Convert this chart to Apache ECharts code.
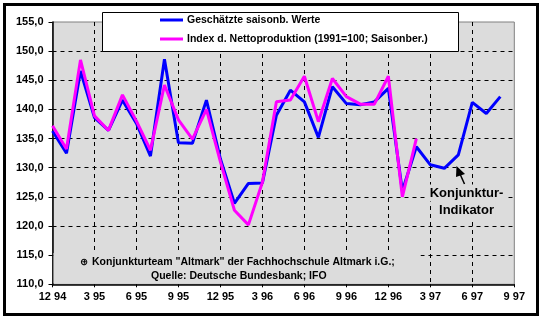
<!DOCTYPE html>
<html>
<head>
<meta charset="utf-8">
<script src="https://cdn.jsdelivr.net/npm/echarts@6/dist/echarts.min.js"></script>
<style>html,body{margin:0;padding:0;background:#fff}#c{width:541px;height:319px}</style>
</head>
<body>
<div id="c"></div>
<script>
const tickLabels = ["12 94","3 95","6 95","9 95","12 95","3 96","6 96","9 96","12 96","3 97","6 97","9 97"];
const seriesNames = ["Geschätzte saisonb. Werte", "Index d. Nettoproduktion (1991=100; Saisonber.)"];
const blueValues = [136.3,132.5,146.6,138.6,136.4,141.6,137.6,132.0,148.6,134.3,134.2,141.6,131.5,123.9,127.3,127.4,139.0,143.3,141.3,135.2,143.9,141.0,140.8,141.3,143.6,126.0,133.6,130.5,129.9,132.2,141.2,139.3,142.2];
const pinkValues = [137.2,133.2,148.5,138.9,136.4,142.5,138.0,133.0,144.2,138.2,134.9,140.0,131.0,122.7,120.2,127.5,141.3,141.6,145.7,137.9,145.3,142.2,140.9,140.9,145.7,125.0,135.0];
const footLines = ["Konjunkturteam \"Altmark\" der Fachhochschule Altmark i.G.;", "Quelle: Deutsche Bundesbank; IFO"];
const noteText = ["Konjunktur-", "Indikator"];

const toPairs = arr => arr.map((v, i) => [i, v]);
const plotBg = '#dcdcdc';
const font = 'bold 10.5px "Liberation Sans", Arial, sans-serif';

const chart = echarts.init(document.getElementById('c'), null, {renderer: 'canvas'});
chart.setOption({
  animation: false,
  backgroundColor: '#fff',
  grid: {left: 52.5, right: 26.7, top: 22, bottom: 34.7, show: true, backgroundColor: plotBg, borderColor: '#808080', borderWidth: 1},
  xAxis: {
    type: 'value', min: 0, max: 33, interval: 3,
    axisLine: {show: true, onZero: false, lineStyle: {color: '#000', width: 1.5}},
    axisTick: {show: true, length: 3, lineStyle: {color: '#000'}},
    axisLabel: {margin: 7, color: '#000', fontFamily: '"Liberation Sans", Arial, sans-serif', fontWeight: 'bold', fontSize: 11,
      formatter: v => tickLabels[Math.round(v / 3)]},
    splitLine: {show: true, showMinLine: false, showMaxLine: false, lineStyle: {color: '#000', type: [4, 4], width: 1}}
  },
  yAxis: {
    type: 'value', min: 110, max: 155, interval: 5,
    axisLine: {show: true, onZero: false, lineStyle: {color: '#000', width: 1.5}},
    axisTick: {show: true, length: 4, lineStyle: {color: '#000'}},
    axisLabel: {margin: 9, color: '#000', fontFamily: '"Liberation Sans", Arial, sans-serif', fontWeight: 'bold', fontSize: 11,
      formatter: v => v.toFixed(1).replace('.', ',')},
    splitLine: {show: true, showMinLine: false, showMaxLine: false, lineStyle: {color: '#000', type: [4, 4], width: 1}}
  },
  legend: {
    orient: 'vertical', left: 160, top: 13, padding: 0, itemGap: 5,
    itemWidth: 23, itemHeight: 3, icon: 'rect',
    textStyle: {color: '#000', fontFamily: '"Liberation Sans", Arial, sans-serif', fontWeight: 'bold', fontSize: 10.5, lineHeight: 14, padding: [0, 0, 0, -1]},
    data: seriesNames, z: 10
  },
  series: [
    {name: seriesNames[0], type: 'line', data: toPairs(blueValues), showSymbol: false, symbol: 'none', color: '#0000ff', lineStyle: {color: '#0000ff', width: 3}, z: 2},
    {name: seriesNames[1], type: 'line', data: toPairs(pinkValues), showSymbol: false, symbol: 'none', color: '#ff00ff', lineStyle: {color: '#ff00ff', width: 3}, z: 3}
  ],
  graphic: [
    {type: 'rect', shape: {x: 4.5, y: 4.5, width: 533, height: 310}, style: {fill: 'none', stroke: '#000', lineWidth: 3}, z: 20},
    {type: 'rect', shape: {x: 102.5, y: 12.5, width: 356, height: 39}, style: {fill: '#fff', stroke: '#000', lineWidth: 1}, z: 5},
    {type: 'rect', shape: {x: 53.5, y: 253, width: 367, height: 30.5}, style: {fill: plotBg}, z: 1},
    {type: 'text', x: 80, y: 262, style: {text: '⊕', font: 'bold 10px "DejaVu Sans", sans-serif', fill: '#000', verticalAlign: 'middle'}, z: 6},
    {type: 'text', x: 92, y: 262, style: {text: footLines[0], font: font, fill: '#000', verticalAlign: 'middle'}, z: 6},
    {type: 'text', x: 151, y: 276, style: {text: footLines[1], font: font, fill: '#000', verticalAlign: 'middle'}, z: 6},
    {type: 'text', x: 466.5, y: 193, style: {text: noteText[0], font: 'bold 13px "Liberation Sans", Arial, sans-serif', fill: '#000', align: 'center', verticalAlign: 'middle', backgroundColor: plotBg, padding: [2, 2, 2, 2]}, z: 6},
    {type: 'text', x: 466.5, y: 210.5, style: {text: noteText[1], font: 'bold 13px "Liberation Sans", Arial, sans-serif', fill: '#000', align: 'center', verticalAlign: 'middle', backgroundColor: plotBg, padding: [2, 2, 4, 2]}, z: 6},
    {type: 'line', shape: {x1: 460, y1: 174, x2: 464.5, y2: 184}, style: {stroke: '#000', lineWidth: 1.5}, z: 6},
    {type: 'polygon', shape: {points: [[456.5, 166], [456, 177], [465, 174]]}, style: {fill: '#000'}, z: 6}
  ]
});
</script>
</body>
</html>
